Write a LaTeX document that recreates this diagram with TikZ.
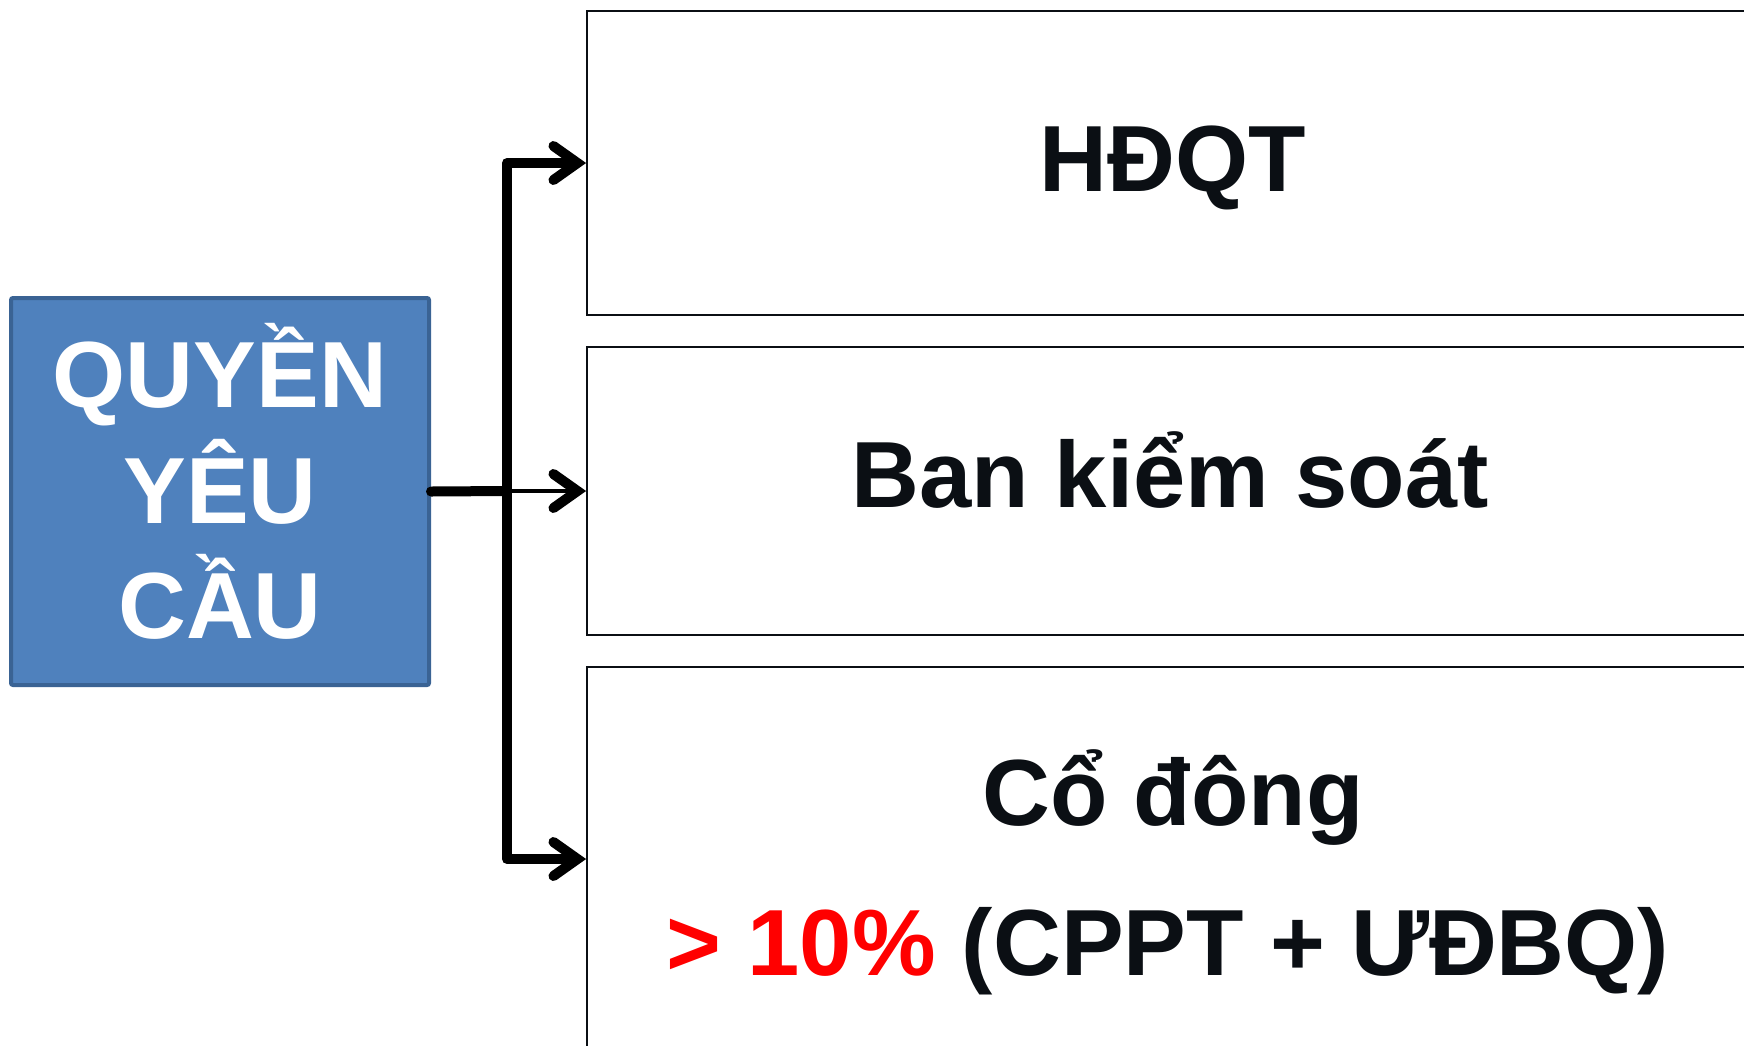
\documentclass[tikz,border=0pt]{standalone}
\usepackage{fontspec}
\setmainfont{Liberation Sans}
\usetikzlibrary{arrows.meta}
\definecolor{boxblue}{HTML}{4F81BD}
\definecolor{boxblueedge}{HTML}{3A6394}
\definecolor{inkblack}{HTML}{0B0F14}
\tikzset{
  lead/.style={fill=boxblue, draw=boxblueedge, line width=4pt, rounded corners=2pt},
  target/.style={draw=inkblack, line width=1.8pt, fill=white},
  conn/.style={line width=10pt, draw=black, line cap=round, line join=round,
    -{Straight Barb[length=24pt, width=34pt, line width=10pt, line cap=round]}},
  big/.style={font=\fontsize{94}{116}\selectfont\bfseries, inner sep=0pt},
  bigw/.style={big, text=white},
  bigk/.style={big, text=inkblack},
}
\begin{document}
\begin{tikzpicture}[x=1pt, y=-1pt]
  \useasboundingbox (0,0) rectangle (1744,1045);
  \clip (0,0) rectangle (1744,1045);

  % left box and its text
  \node[lead, minimum width=418pt, minimum height=387pt] (q) at (220,491.5) {};
  \node[bigw, anchor=base] (q1) at (220,407) {QUYỀN};
  \node[bigw, anchor=base] (q2) at (220,523) {YÊU};
  \node[bigw, anchor=base] (q3) at (220,638) {CẦU};

  % three target boxes on the right
  \node[target, minimum width=1173pt, minimum height=304pt] (top) at (1173.5,163) {};
  \node[target, minimum width=1173pt, minimum height=288pt] (mid) at (1173.5,491) {};
  \node[target, minimum width=1173pt, minimum height=384pt] (bot) at (1173.5,859) {};

  \node[bigk, anchor=base] (t1) at (1173,191) {HĐQT};
  \node[bigk, anchor=base] (t2) at (1170,507) {Ban kiểm soát};
  \node[bigk, anchor=base] (t3) at (1173,825) {Cổ đông};
  \node[bigk, anchor=base] (t4) at (1168,975) {{\color{red}> 10\%} (CPPT + ƯĐBQ)};

  % branching connectors
  \coordinate (j) at (507,491);
  \draw[conn, -] (q.east) -- (j);
  \draw[conn, line width=4pt] (j) -- (mid.west);
  \draw[conn] (j) |- (top.west);
  \draw[conn] (j) |- (bot.west);
\end{tikzpicture}
\end{document}
